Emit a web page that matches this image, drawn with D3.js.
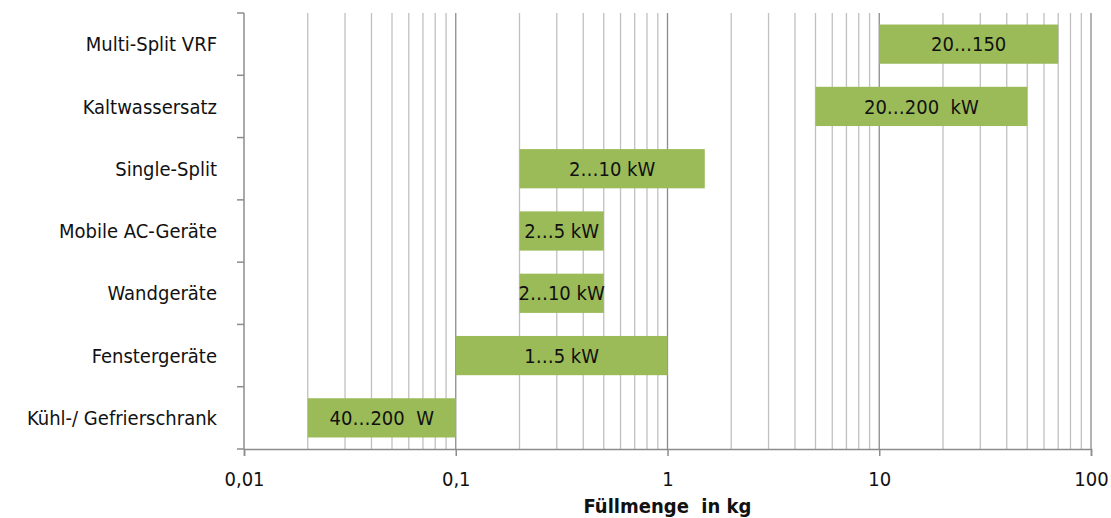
<!DOCTYPE html>
<html><head><meta charset="utf-8">
<script src="https://cdn.jsdelivr.net/npm/d3@7"></script>
<style>body{margin:0;background:#fff}svg{display:block}text{font-stretch:condensed}</style>
</head><body>
<svg id="c" width="1111" height="518"></svg>
<script>
const categories = ["Multi-Split VRF","Kaltwassersatz","Single-Split","Mobile AC-Geräte","Wandgeräte","Fenstergeräte","Kühl-/ Gefrierschrank"];
const minValues = [10, 5, 0.2, 0.2, 0.2, 0.1, 0.02];
const maxValues = [70, 50, 1.5, 0.5, 0.5, 1, 0.1];
const barLabels = ["20…150","20…200  kW","2…10 kW","2…5 kW","2…10 kW","1…5 kW","40…200  W"];
const tickValues = [0.01, 0.1, 1, 10, 100];
const tickLabels = ["0,01","0,1","1","10","100"];
const axisTitle = "Füllmenge  in kg";

const svg = d3.select("#c");
const m = {l:244, r:1091, t:13, b:449};
const font = "'DejaVu Sans Condensed','DejaVu Sans',sans-serif";
const x = d3.scaleLog().domain([0.01,100]).range([m.l,m.r]);
const y = d3.scaleBand().domain(categories).range([m.t,m.b]).paddingInner(0.37).paddingOuter(0.185);
const yb = d3.scaleBand().domain(categories).range([m.t,m.b]);

// minor gridlines
const minor = [];
for (let d=-2; d<2; d++) for (let k=2;k<=9;k++) minor.push(k*Math.pow(10,d));
svg.append("g").selectAll("line").data(minor).join("line")
  .attr("x1",d=>x(d)).attr("x2",d=>x(d)).attr("y1",m.t).attr("y2",m.b)
  .attr("stroke","#c0c0c0").attr("stroke-width",1.3);
svg.append("g").selectAll("line").data(tickValues.slice(1)).join("line")
  .attr("x1",d=>x(d)).attr("x2",d=>x(d)).attr("y1",m.t).attr("y2",m.b)
  .attr("stroke","#8c8c8c").attr("stroke-width",1.3);

// bars
const rows = categories.map((c,i)=>({c, lo:minValues[i], hi:maxValues[i], lab:barLabels[i]}));
svg.append("g").selectAll("rect").data(rows).join("rect")
  .attr("x",d=>x(d.lo)).attr("width",d=>x(d.hi)-x(d.lo))
  .attr("y",d=>y(d.c)).attr("height",y.bandwidth())
  .attr("fill","#9bbb59");
svg.append("g").selectAll("text").data(rows).join("text")
  .attr("x",d=>(x(d.lo)+x(d.hi))/2).attr("y",d=>y(d.c)+y.bandwidth()/2)
  .attr("dy","0.36em").attr("text-anchor","middle")
  .style("font-family",font).style("font-size","20px").style("white-space","pre")
  .attr("fill","#111").text(d=>d.lab);

// y axis
svg.append("line").attr("x1",m.l).attr("x2",m.l).attr("y1",m.t).attr("y2",m.b).attr("stroke","#8c8c8c").attr("stroke-width",1.5);
const bounds = categories.map(c=>yb(c)).concat([m.b]);
svg.append("g").selectAll("line").data(bounds).join("line")
  .attr("x1",m.l-7).attr("x2",m.l).attr("y1",d=>d).attr("y2",d=>d)
  .attr("stroke","#8c8c8c").attr("stroke-width",1.5);
svg.append("g").selectAll("text").data(categories).join("text")
  .attr("x",217).attr("y",d=>yb(d)+yb.bandwidth()/2).attr("dy","0.36em")
  .attr("text-anchor","end").style("font-family",font).style("font-size","20px")
  .attr("fill","#111").text(d=>d);

// x axis
const xa = svg.append("g").attr("transform",`translate(0,${m.b})`)
  .call(d3.axisBottom(x).tickValues(tickValues).tickFormat((d,i)=>tickLabels[i]).tickSize(7).tickPadding(16));
xa.select(".domain").attr("stroke","#8c8c8c").attr("stroke-width",1.5);
xa.selectAll(".tick line").attr("stroke","#8c8c8c").attr("stroke-width",1.5);
xa.selectAll("text").style("font-family",font).style("font-size","20px").attr("fill","#111");

svg.append("text").attr("x",(m.l+m.r)/2).attr("y",513).attr("text-anchor","middle")
  .style("font-family",font).style("font-size","20px").style("font-weight","bold").style("white-space","pre")
  .attr("fill","#111").text(axisTitle);
</script>
</body></html>
